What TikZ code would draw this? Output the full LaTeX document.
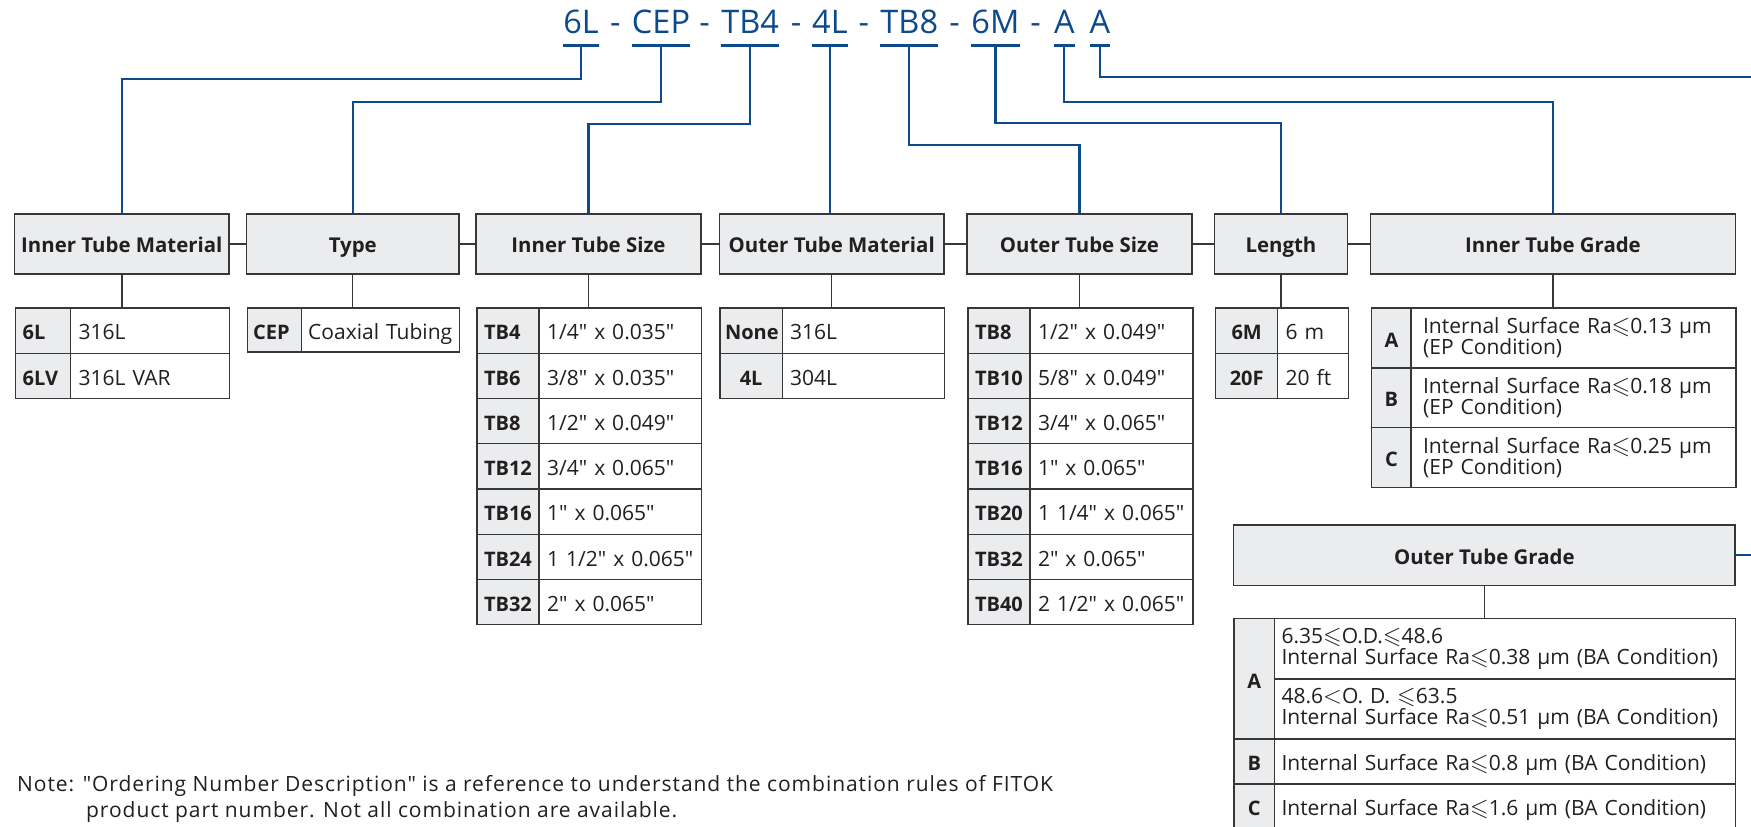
\documentclass[tikz,border=0pt]{standalone}
\usepackage{amssymb}
\usepackage{fontspec}
\setmainfont{Open Sans}[Ligatures=TeXOff]
\newfontfamily\notefam{Open Sans}[Ligatures=TeXOff, LetterSpace=4.5]
\usepackage{tikz}

\definecolor{codeblue}{RGB}{12,74,140}
\definecolor{boxfill}{RGB}{235,236,238}
\definecolor{boxline}{RGB}{55,55,55}
\definecolor{ink}{RGB}{35,31,32}

\newcommand{\rale}{{\fontsize{24}{24}\selectfont$\leqslant$}}
\newcommand{\ralt}{{\fontsize{24}{24}\selectfont$<$}}
\newcommand{\headfont}{\bfseries\fontsize{20.4}{24}\selectfont}
\newcommand{\keyfont}{\bfseries\fontsize{20}{24}\selectfont}
\newcommand{\valfont}{\fontsize{21}{21}\selectfont}
\newcommand{\codefont}{\fontsize{32.5}{36}\selectfont}
\newcommand{\notefont}{\notefam\fontsize{21}{26}\selectfont}

\tikzset{
  hbox/.style={draw=boxline, line width=1.4pt, fill=boxfill, text=ink, font=\headfont,
    minimum height=60pt, inner sep=0pt, text height=17.5pt, text depth=0pt},
  kcell/.style={draw=boxline, line width=1.4pt, fill=boxfill, text=ink, font=\keyfont,
    anchor=north west, minimum height=45.25pt, inner xsep=7pt, inner ysep=0pt,
    text height=18.5pt, text depth=0pt},
  vcell/.style={draw=boxline, line width=1.4pt, fill=white, text=ink, font=\valfont,
    anchor=north west, minimum height=45.25pt, inner xsep=8pt, inner ysep=0pt, align=left,
    text height=18.5pt, text depth=0pt},
  vcelltwo/.style={draw=boxline, line width=1.4pt, fill=white, text=ink, font=\valfont,
    anchor=north west, minimum height=60pt, inner ysep=0pt, align=left},
  link/.style={draw=codeblue, line width=2.3pt},
  tie/.style={draw=boxline, line width=1.4pt},
  code/.style={text=codeblue, font=\codefont, anchor=base, inner sep=0pt},
  notetext/.style={text=ink, font=\notefont, anchor=base west, inner sep=0pt}
}

\begin{document}
\begin{tikzpicture}[x=1pt, y=-1pt]
\path[use as bounding box, fill=white] (0,0) rectangle (1751,827);

% ordering number
\foreach \n/\lbl/\x in {1/6L/581, 2/CEP/661, 3/TB4/750.1, 4/4L/829.9, 5/TB8/909.3, 6/6M/995.4, 7/A/1064.3, 8/A/1100}
  \node[code] (c\n) at (\x,33.5) {\lbl};
\foreach \x [count=\i] in {615.4, 704.6, 796, 863.9, 954.7, 1035.6}
  \node[code] (d\i) at (\x,33.5) {-};
\foreach \n in {1,...,8}
  \draw[link] ([yshift=-12pt]c\n.base west) -- ([yshift=-12pt]c\n.base east) coordinate[midway] (u\n);

% headings
\node[hbox, minimum width=214.5pt] (imat) at (121.8,244) {Inner Tube Material};
\node[hbox, minimum width=212.5pt] (type) at (352.75,244) {Type};
\node[hbox, minimum width=225pt] (isize) at (588.5,244) {Inner Tube Size};
\node[hbox, minimum width=224.5pt] (omat) at (831.7,244) {Outer Tube Material};
\node[hbox, minimum width=225pt] (osize) at (1079.5,244) {Outer Tube Size};
\node[hbox, minimum width=133pt] (length) at (1281,244) {Length};
\node[hbox, minimum width=365pt] (igrade) at (1553,244) {Inner Tube Grade};
\node[hbox, minimum width=501.5pt, minimum height=60.5pt] (ograde) at (1484.3,555.3) {Outer Tube Grade};

\foreach \a/\b in {imat/type, type/isize, isize/omat, omat/osize, osize/length, length/igrade}
  \draw[tie] (\a) -- (\b);

% option tables
\foreach \k/\v [count=\i from 0] in {6L/316L, 6LV/316L VAR} {
  \node[kcell, text width=41pt, align=left] (imk\i) at (15,307.3+45.25*\i) {\k};
  \node[vcell, text width=143pt] (imv\i) at (70,307.3+45.25*\i) {\mbox{\v}};
}

\node[kcell, text width=42.5pt, inner xsep=5.5pt, align=left, minimum height=44pt] (tyk0) at (247,307.3) {CEP};
\node[vcell, text width=144.5pt, inner xsep=7pt, minimum height=44pt] (tyv0) at (300.5,307.3) {\mbox{Coaxial Tubing}};

\foreach \k/\v [count=\i from 0] in {TB4/{1/4" x 0.035"}, TB6/{3/8" x 0.035"}, TB8/{1/2" x 0.049"},
    TB12/{3/4" x 0.065"}, TB16/{1" x 0.065"}, TB24/{1 1/2" x 0.065"}, TB32/{2" x 0.065"}} {
  \node[kcell, text width=48.1pt, align=left] (isk\i) at (476.3,307.3+45.25*\i) {\k};
  \node[vcell, text width=146.4pt] (isv\i) at (538.4,307.3+45.25*\i) {\mbox{\v}};
}

\foreach \k/\v [count=\i from 0] in {None/316L, 4L/304L} {
  \node[kcell, text width=52.1pt, inner xsep=5pt, align=center] (omk\i) at (719.4,307.3+45.25*\i) {\k};
  \node[vcell, text width=146.5pt] (omv\i) at (781.5,307.3+45.25*\i) {\mbox{\v}};
}

\foreach \k/\v [count=\i from 0] in {TB8/{1/2" x 0.049"}, TB10/{5/8" x 0.049"}, TB12/{3/4" x 0.065"},
    TB16/{1" x 0.065"}, TB20/{1 1/4" x 0.065"}, TB32/{2" x 0.065"}, TB40/{2 1/2" x 0.065"}} {
  \node[kcell, text width=48pt, align=left] (osk\i) at (967.3,307.3+45.25*\i) {\k};
  \node[vcell, text width=147pt] (osv\i) at (1029.3,307.3+45.25*\i) {\mbox{\v}};
}

\foreach \k/\v [count=\i from 0] in {6M/6 m, 20F/20 ft} {
  \node[kcell, text width=52pt, inner xsep=5pt, align=center] (lek\i) at (1215,307.3+45.25*\i) {\k};
  \node[vcell, text width=54.5pt] (lev\i) at (1277,307.3+45.25*\i) {\mbox{\v}};
}

\foreach \k/\v [count=\i from 0] in {A/0.13, B/0.18, C/0.25} {
  \node[kcell, text width=33.4pt, inner xsep=3pt, align=center, minimum height=59.8pt] (igk\i) at (1371,307.3+59.8*\i) {\k};
  \node[vcelltwo, text width=301pt, inner xsep=12pt, minimum height=59.8pt] (igv\i) at (1410.4,307.3+59.8*\i)
    {\mbox{Internal Surface Ra\rale\v{} μm}\\\mbox{(EP Condition)}};
}

\node[kcell, text width=34.4pt, inner xsep=3pt, align=center, minimum height=120.3pt] (ogk0) at (1233.4,618) {A};
\node[vcelltwo, text width=447.2pt, inner xsep=7pt] (oga1) at (1273.8,618)
  {\mbox{6.35\rale{}O.D.\rale48.6}\\\mbox{Internal Surface Ra\rale0.38 μm (BA Condition)}};
\node[vcelltwo, text width=447.2pt, inner xsep=7pt] (oga2) at (1273.8,678.3)
  {\mbox{48.6\ralt{}O. D. \rale63.5}\\\mbox{Internal Surface Ra\rale0.51 μm (BA Condition)}};
\node[kcell, text width=34.4pt, inner xsep=3pt, align=center, minimum height=45pt] (ogk1) at (1233.4,738.3) {B};
\node[vcell, text width=447.2pt, inner xsep=7pt, minimum height=45pt] (ogb) at (1273.8,738.3)
  {\mbox{Internal Surface Ra\rale0.8 μm (BA Condition)}};
\node[kcell, text width=34.4pt, inner xsep=3pt, align=center, minimum height=45pt] (ogk2) at (1233.4,783.3) {C};
\node[vcell, text width=447.2pt, inner xsep=7pt, minimum height=45pt] (ogc) at (1273.8,783.3)
  {\mbox{Internal Surface Ra\rale1.6 μm (BA Condition)}};

\foreach \h/\tb in {imat/imk0, type/tyk0, isize/isk0, omat/omk0, osize/osk0, length/lek0, igrade/igk0, ograde/ogk0}
  \draw[tie] (\h.south) -- (\h.south |- \tb.north);

% connectors from the ordering number
\coordinate (rimA) at (1751,76.7);
\coordinate (rimB) at (1751,555.3);
\draw[link] (u1) -- (u1 |- 0,79) -| (imat.north);
\draw[link] (u2) -- (u2 |- 0,101.7) -| (type.north);
\draw[link] (u3) -- (u3 |- 0,124) -| (isize.north);
\draw[link] (u4) -- (u4 |- omat.north);
\draw[link] (u5) -- (u5 |- 0,144.7) -| (osize.north);
\draw[link] (u6) -- (u6 |- 0,123.3) -| (length.north);
\draw[link] (u7) -- (u7 |- 0,101.7) -| (igrade.north);
\draw[link] (u8) |- (rimA);
\draw[link] (ograde.east) -- (rimB);

% note
\node[notetext] (note1) at (17,791) {Note: "Ordering Number Description" is a reference to understand the combination rules of FITOK};
\node[notetext] (note2) at (86,817.5) {product part number. Not all combination are available.};
\end{tikzpicture}
\end{document}
